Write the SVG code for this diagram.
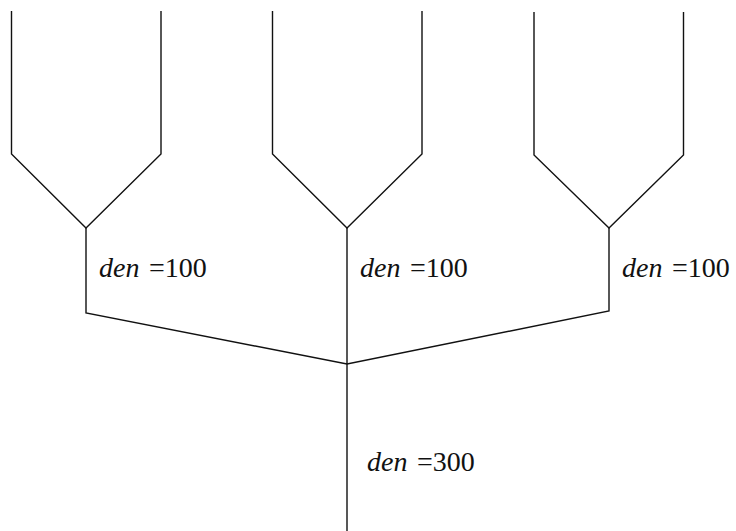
<svg xmlns="http://www.w3.org/2000/svg" width="736" height="531" viewBox="0 0 736 531">
<style>
.ln{fill:none;stroke:#111;stroke-width:1.4;stroke-linejoin:miter}
.t{font-family:'Liberation Serif','Times New Roman',serif;font-size:28px;fill:#111}
.i{font-style:italic}
</style>
<rect width="736" height="531" fill="#fff"/>
<g id="connectors">
<polyline class="ln" points="11.5,11 11.5,154 86,228 161,154 161,11"/>
<polyline class="ln" points="272.5,11 272.5,154 347,228 422,154 422,11"/>
<polyline class="ln" points="534,12 534,155 609,228 683.5,155 683.5,12"/>
<polyline class="ln" points="86,228 86,313 347,364 609,311 609,228"/>
<line class="ln" x1="347" y1="228" x2="347" y2="531"/>
</g>
<g id="label-left">
<text class="t" y="277"><tspan class="i" x="99">den</tspan><tspan x="149">=100</tspan></text>
</g>
<g id="label-middle">
<text class="t" y="277"><tspan class="i" x="360">den</tspan><tspan x="410">=100</tspan></text>
</g>
<g id="label-right">
<text class="t" y="277"><tspan class="i" x="622">den</tspan><tspan x="672">=100</tspan></text>
</g>
<g id="label-trunk">
<text class="t" y="471"><tspan class="i" x="367">den</tspan><tspan x="417">=300</tspan></text>
</g>
</svg>
